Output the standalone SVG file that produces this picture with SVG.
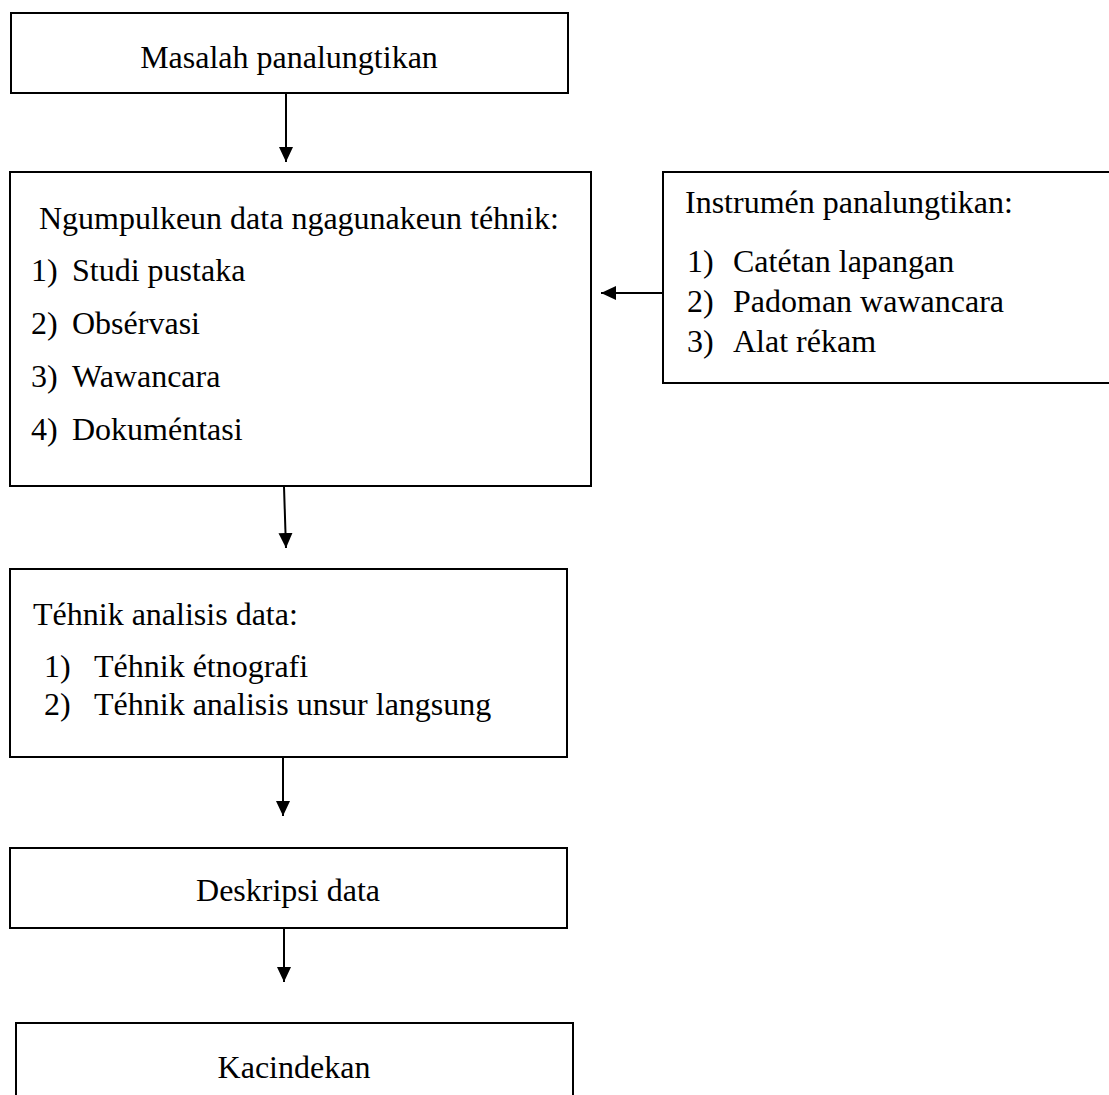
<svg xmlns="http://www.w3.org/2000/svg" width="1109" height="1095" viewBox="0 0 1109 1095">
<style>
  .box { fill: #ffffff; stroke: #000000; stroke-width: 2; }
  .t { font-family: "Liberation Serif", "Times New Roman", serif; font-size: 32px; fill: #000000; }
  .c { text-anchor: middle; }
  .conn { stroke: #000000; stroke-width: 2; fill: none; marker-end: url(#arrow); }
</style>
<defs>
  <marker id="arrow" markerUnits="userSpaceOnUse" markerWidth="16" markerHeight="16" refX="15" refY="7" orient="auto">
    <path d="M0,0 L15,7 L0,14 z" fill="#000000"/>
  </marker>
</defs>
<rect width="1109" height="1095" fill="#ffffff"/>

<g id="masalah">
  <rect class="box" x="11" y="13" width="557" height="80"/>
  <text class="t c" x="289" y="68">Masalah panalungtikan</text>
</g>

<g id="ngumpulkeun">
  <rect class="box" x="10" y="172" width="581" height="314"/>
  <text class="t" x="39" y="229">Ngumpulkeun data ngagunakeun téhnik:</text>
  <text class="t" x="31" y="281">1)</text><text class="t" x="72" y="281">Studi pustaka</text>
  <text class="t" x="31" y="334">2)</text><text class="t" x="72" y="334">Obsérvasi</text>
  <text class="t" x="31" y="387">3)</text><text class="t" x="72" y="387">Wawancara</text>
  <text class="t" x="31" y="440">4)</text><text class="t" x="72" y="440">Dokuméntasi</text>
</g>

<g id="instrumen">
  <rect class="box" x="663" y="172" width="470" height="211"/>
  <text class="t" x="685" y="213">Instrumén panalungtikan:</text>
  <text class="t" x="687" y="272">1)</text><text class="t" x="733" y="272">Catétan lapangan</text>
  <text class="t" x="687" y="312">2)</text><text class="t" x="733" y="312">Padoman wawancara</text>
  <text class="t" x="687" y="352">3)</text><text class="t" x="733" y="352">Alat rékam</text>
</g>

<g id="analisis">
  <rect class="box" x="10" y="569" width="557" height="188"/>
  <text class="t" x="33" y="625">Téhnik analisis data:</text>
  <text class="t" x="44" y="677">1)</text><text class="t" x="94" y="677">Téhnik étnografi</text>
  <text class="t" x="44" y="715">2)</text><text class="t" x="94" y="715">Téhnik analisis unsur langsung</text>
</g>

<g id="deskripsi">
  <rect class="box" x="10" y="848" width="557" height="80"/>
  <text class="t c" x="288" y="901">Deskripsi data</text>
</g>

<g id="kacindekan">
  <rect class="box" x="16" y="1023" width="557" height="110"/>
  <text class="t c" x="294" y="1078">Kacindekan</text>
</g>

<g id="connectors">
  <line class="conn" x1="286" y1="93" x2="286" y2="162"/>
  <line class="conn" x1="284" y1="487" x2="286" y2="548"/>
  <line class="conn" x1="283" y1="757" x2="283" y2="816"/>
  <line class="conn" x1="284" y1="928" x2="284" y2="982"/>
  <line class="conn" x1="663" y1="293" x2="601" y2="293"/>
</g>
</svg>
